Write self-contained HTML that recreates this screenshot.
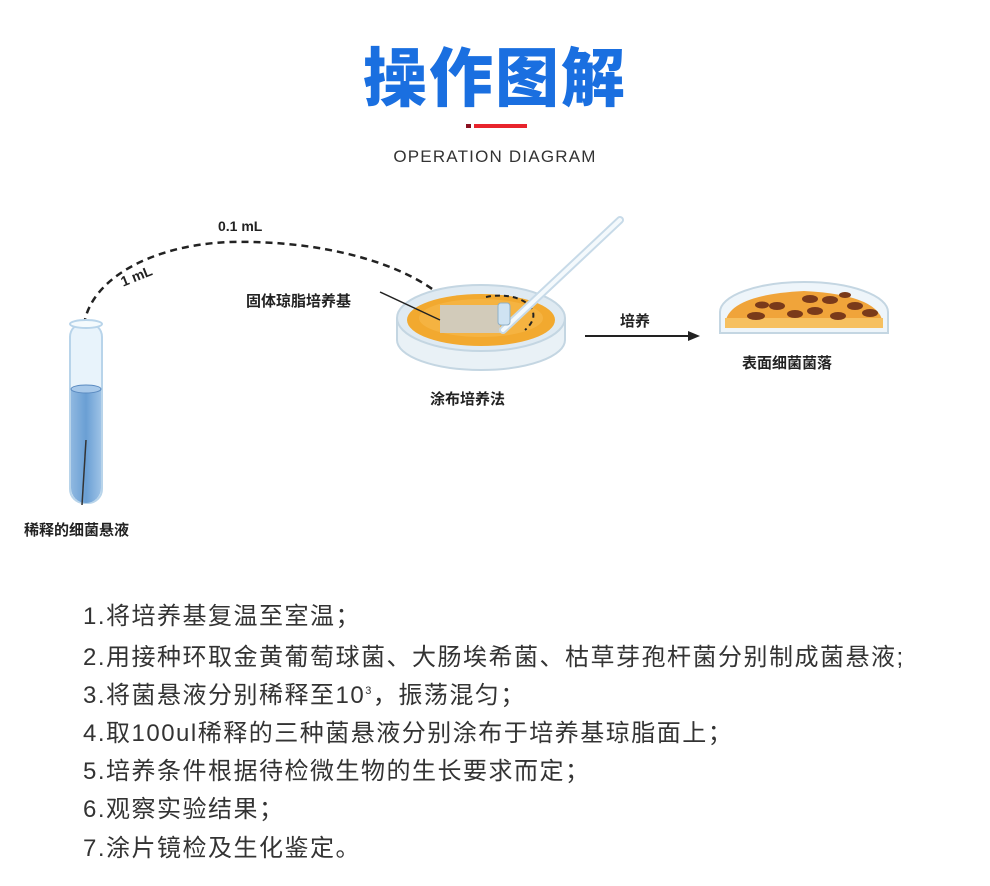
<!DOCTYPE html>
<html><head><meta charset="utf-8"><style>
body{margin:0;width:990px;height:886px;background:#fff;position:relative;overflow:hidden;font-family:"Liberation Sans","Noto Sans CJK SC",sans-serif}
.t{position:absolute;white-space:nowrap}
.list div{position:absolute;left:83px;font-size:24px;letter-spacing:1.5px;color:#333;white-space:nowrap}
.lb{font-weight:bold;font-size:15px;color:#222;position:absolute;white-space:nowrap}
</style></head><body>
<div class="t" style="left:0;width:990px;text-align:center;top:28px;font-size:64px;font-weight:900;color:#1a6fe0;letter-spacing:2px">操作图解</div>
<div style="position:absolute;left:466px;top:124px;width:5px;height:4px;background:#8a1020"></div>
<div style="position:absolute;left:474px;top:124px;width:53px;height:4px;background:#e8242c"></div>
<div class="t" style="left:0;width:990px;text-align:center;top:147px;font-size:17px;letter-spacing:1.2px;color:#333">OPERATION DIAGRAM</div>

<svg width="990" height="560" style="position:absolute;left:0;top:0">
<defs>
<linearGradient id="liq" x1="0" x2="1"><stop offset="0" stop-color="#8fb8e0"/><stop offset=".5" stop-color="#6a9fd4"/><stop offset="1" stop-color="#9dc2e6"/></linearGradient>
</defs>
<path d="M84 325 C90 280 150 245 230 242 C320 240 400 262 440 295" fill="none" stroke="#222" stroke-width="2.5" stroke-dasharray="7,5"/>
<rect x="70" y="323" width="32" height="180" rx="14" fill="#e8f3fb" stroke="#b8d4ea" stroke-width="2"/>
<path d="M71 388 H101 V488 A15 15 0 0 1 71 488 Z" fill="url(#liq)"/>
<ellipse cx="86" cy="389" rx="15" ry="4" fill="#a8c9ea" stroke="#5a8ac0"/>
<ellipse cx="86" cy="324" rx="16" ry="4" fill="#f4fafd" stroke="#b8d4ea" stroke-width="2"/>
<line x1="86" y1="440" x2="82" y2="505" stroke="#333" stroke-width="1.5"/>
<path d="M397 318 V340 A84 30 0 0 0 565 340 V318" fill="#e9f1f6" stroke="#c4d6e2" stroke-width="2"/>
<ellipse cx="481" cy="318" rx="84" ry="33" fill="#dfeaf2" stroke="#c4d6e2" stroke-width="2"/>
<ellipse cx="481" cy="320" rx="74" ry="26" fill="#f2a92f"/>
<ellipse cx="481" cy="318" rx="62" ry="19" fill="#f6b848" opacity=".7"/>
<rect x="440" y="305" width="60" height="28" fill="#c9d1d8" opacity=".8"/>
<path d="M486 297 C520 290 548 310 525 330" fill="none" stroke="#222" stroke-width="2" stroke-dasharray="5,4"/>
<line x1="380" y1="292" x2="440" y2="320" stroke="#222" stroke-width="1.5"/>
<line x1="503" y1="330" x2="620" y2="220" stroke="#c7dae8" stroke-width="8" stroke-linecap="round"/>
<line x1="503" y1="330" x2="620" y2="220" stroke="#f4f9fc" stroke-width="4" stroke-linecap="round"/>
<rect x="498" y="303" width="12" height="22" rx="3" fill="#cfe3f2" stroke="#8fb0c8"/>
<line x1="585" y1="336" x2="690" y2="336" stroke="#222" stroke-width="2"/>
<path d="M700 336 L688 331 L688 341 Z" fill="#222"/>
<path d="M720 333 V312 A84 30 0 0 1 888 312 V333 Z" fill="#eef5fa" stroke="#c4d6e2" stroke-width="2"/>
<path d="M725 326 Q725 295 804 291 Q883 295 883 326 Z" fill="#f0a43a"/>
<rect x="725" y="318" width="158" height="10" fill="#f6c060"/>
<g fill="#7a3a1a">
<ellipse cx="756" cy="316" rx="9" ry="4"/><ellipse cx="777" cy="306" rx="8" ry="4"/><ellipse cx="795" cy="314" rx="8" ry="4"/><ellipse cx="810" cy="299" rx="8" ry="4"/><ellipse cx="815" cy="311" rx="8" ry="4"/><ellipse cx="830" cy="300" rx="8" ry="4"/><ellipse cx="838" cy="316" rx="8" ry="4"/><ellipse cx="855" cy="306" rx="8" ry="4"/><ellipse cx="870" cy="313" rx="8" ry="4"/><ellipse cx="762" cy="305" rx="7" ry="3.5"/><ellipse cx="845" cy="295" rx="6" ry="3"/>
</g>
</svg>
<div class="lb" style="left:218px;top:218px;font-size:14px">0.1 mL</div>
<div class="lb" style="left:120px;top:268px;font-size:14px;transform:rotate(-22deg)">1 mL</div>
<div class="lb" style="left:246px;top:290px">固体琼脂培养基</div>
<div class="lb" style="left:620px;top:310px">培养</div>
<div class="lb" style="left:742px;top:352px">表面细菌菌落</div>
<div class="lb" style="left:430px;top:388px">涂布培养法</div>
<div class="lb" style="left:24px;top:519px">稀释的细菌悬液</div>
<div class="list">
<div style="top:596px">1.将培养基复温至室温；</div>
<div style="top:637px">2.用接种环取金黄葡萄球菌、大肠埃希菌、枯草芽孢杆菌分别制成菌悬液;</div>
<div style="top:675px">3.将菌悬液分别稀释至10<sup style="font-size:11px">3</sup>，振荡混匀；</div>
<div style="top:713px">4.取100ul稀释的三种菌悬液分别涂布于培养基琼脂面上；</div>
<div style="top:751px">5.培养条件根据待检微生物的生长要求而定；</div>
<div style="top:789px">6.观察实验结果；</div>
<div style="top:828px">7.涂片镜检及生化鉴定。</div>
</div>
</body></html>
